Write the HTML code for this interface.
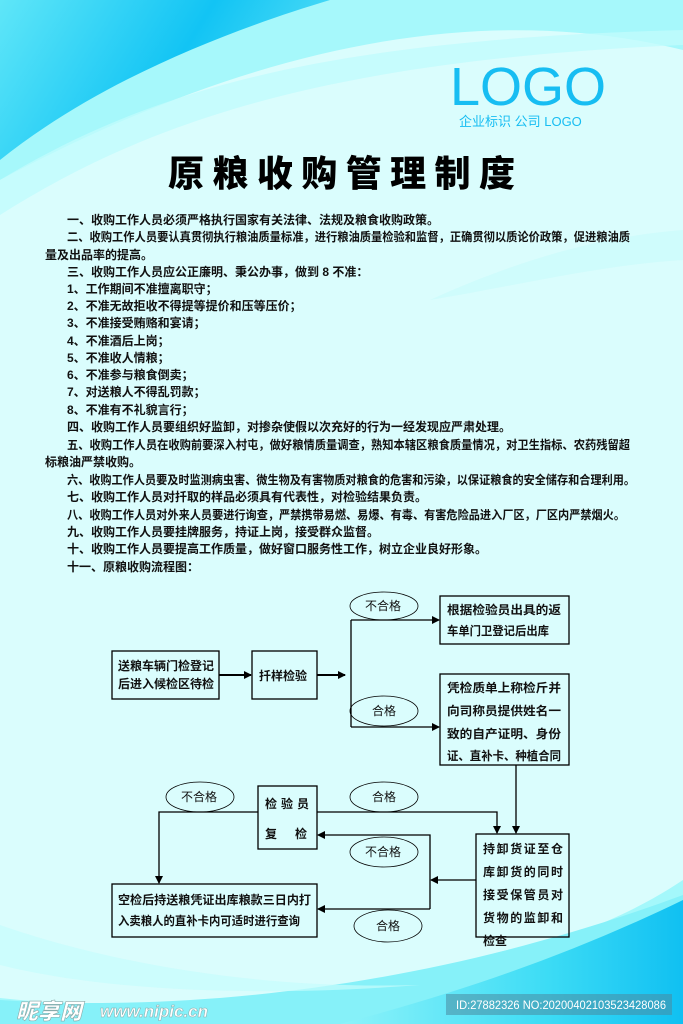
<!DOCTYPE html>
<html><head><meta charset="utf-8"><style>
html,body{margin:0;padding:0}
body{width:683px;height:1024px;overflow:hidden;background:#dafdfd}
svg{display:block}
.t{font-family:"Liberation Sans","Noto Sans CJK SC",sans-serif;font-size:12px;fill:#111;font-weight:bold}
.b{font-family:"Liberation Sans","Noto Sans CJK SC",sans-serif;font-size:12px;fill:#111;font-weight:bold}
</style></head><body>
<svg width="683" height="1024" viewBox="0 0 683 1024" xmlns="http://www.w3.org/2000/svg">
<defs>
<linearGradient id="g1" x1="0" y1="0" x2="1" y2="0.3">
<stop offset="0" stop-color="#5fe6f8"/><stop offset="0.6" stop-color="#12c4f4"/><stop offset="1" stop-color="#4fdcf6"/></linearGradient>
<linearGradient id="g2" x1="0" y1="0" x2="1" y2="0">
<stop offset="0" stop-color="#8ef3fa"/><stop offset="0.6" stop-color="#3ddcf5"/><stop offset="1" stop-color="#10c0f2"/></linearGradient>
<marker id="a" markerWidth="8" markerHeight="8" refX="7" refY="4" orient="auto" markerUnits="userSpaceOnUse"><path d="M0,0 L8,4 L0,8 z" fill="#000"/></marker>
</defs>
<rect width="683" height="1024" fill="#dafdfd"/>
<path d="M0,0 L683,0 L683,50 C520,10 300,20 0,180 Z" fill="#a6f8fb"/>
<path d="M0,0 L330,0 C230,30 100,80 0,160 Z" fill="url(#g1)"/>
<path d="M0,180 C150,90 320,40 683,30 L683,45 C330,60 150,120 0,215 Z" fill="#c0fbfc" opacity="0.8"/>
<path d="M430,300 C540,250 620,235 683,230 L683,260 C600,265 520,285 430,300Z" fill="#c8fcfc" opacity="0.6"/>
<path d="M0,998 C200,1020 520,990 683,880 L683,1024 L0,1024 Z" fill="#a4f8fb"/>
<path d="M0,1000 C150,1010 400,1000 683,895 L683,1024 L0,1024Z" fill="#86f1f9"/>
<path d="M340,1024 C470,990 580,950 683,900 L683,1024 Z" fill="url(#g2)"/>
<path d="M0,925 C100,960 250,990 420,985 C250,998 100,990 0,965Z" fill="#c6fcfc" opacity="0.7"/>

<text x="450" y="105" font-family="Liberation Sans,sans-serif" font-size="54" fill="#17bdf2">LOGO</text>
<text x="459" y="126" font-family="Liberation Sans,'Noto Sans CJK SC',sans-serif" font-size="13" fill="#17bdf2">企业标识 公司 LOGO</text>
<text x="168" y="186" font-family="'Noto Sans CJK SC',sans-serif" font-weight="900" font-size="36" fill="#000" textLength="347" lengthAdjust="spacing">原粮收购管理制度</text>

<g class="t">
<text x="67" y="224">一、收购工作人员必须严格执行国家有关法律、法规及粮食收购政策。</text>
<text x="67" y="241" textLength="563" lengthAdjust="spacingAndGlyphs">二、收购工作人员要认真贯彻执行粮油质量标准，进行粮油质量检验和监督，正确贯彻以质论价政策，促进粮油质</text>
<text x="45" y="259">量及出品率的提高。</text>
<text x="67" y="276">三、收购工作人员应公正廉明、秉公办事，做到 8 不准：</text>
<text x="67" y="293">1、工作期间不准擅离职守；</text>
<text x="67" y="310">2、不准无故拒收不得提等提价和压等压价；</text>
<text x="67" y="327">3、不准接受贿赂和宴请；</text>
<text x="67" y="345">4、不准酒后上岗；</text>
<text x="67" y="362">5、不准收人情粮；</text>
<text x="67" y="379">6、不准参与粮食倒卖；</text>
<text x="67" y="396">7、对送粮人不得乱罚款；</text>
<text x="67" y="414">8、不准有不礼貌言行；</text>
<text x="67" y="431">四、收购工作人员要组织好监卸，对掺杂使假以次充好的行为一经发现应严肃处理。</text>
<text x="67" y="449" textLength="563" lengthAdjust="spacingAndGlyphs">五、收购工作人员在收购前要深入村屯，做好粮情质量调查，熟知本辖区粮食质量情况，对卫生指标、农药残留超</text>
<text x="45" y="466">标粮油严禁收购。</text>
<text x="67" y="484" textLength="568" lengthAdjust="spacingAndGlyphs">六、收购工作人员要及时监测病虫害、微生物及有害物质对粮食的危害和污染，以保证粮食的安全储存和合理利用。</text>
<text x="67" y="501">七、收购工作人员对扦取的样品必须具有代表性，对检验结果负责。</text>
<text x="67" y="519" textLength="558" lengthAdjust="spacingAndGlyphs">八、收购工作人员对外来人员要进行询查，严禁携带易燃、易爆、有毒、有害危险品进入厂区，厂区内严禁烟火。</text>
<text x="67" y="536">九、收购工作人员要挂牌服务，持证上岗，接受群众监督。</text>
<text x="67" y="553">十、收购工作人员要提高工作质量，做好窗口服务性工作，树立企业良好形象。</text>
<text x="67" y="571">十一、原粮收购流程图：</text>
</g>

<g fill="none" stroke="#000" stroke-width="1.3">
<rect x="112" y="651" width="107" height="48"/>
<rect x="252" y="651" width="65" height="48"/>
<rect x="440" y="596" width="129" height="48"/>
<rect x="440" y="674" width="129" height="91"/>
<rect x="258" y="786" width="59" height="63"/>
<rect x="476" y="834" width="93" height="103"/>
<rect x="112" y="884" width="205" height="53"/>
<ellipse cx="384" cy="606" rx="34" ry="14" stroke-width="0.8"/>
<ellipse cx="384" cy="711" rx="34" ry="15" stroke-width="0.8"/>
<ellipse cx="200" cy="797" rx="34" ry="15" stroke-width="0.8"/>
<ellipse cx="384" cy="797" rx="34" ry="15" stroke-width="0.8"/>
<ellipse cx="384" cy="852" rx="34" ry="15" stroke-width="0.8"/>
<ellipse cx="388" cy="926" rx="34" ry="16" stroke-width="0.8"/>
</g>
<g fill="none" stroke="#000" stroke-width="1.3">
<line x1="219" y1="675" x2="251" y2="675" stroke-width="2" marker-end="url(#a)"/>
<line x1="317" y1="675" x2="345" y2="675" stroke-width="2" marker-end="url(#a)"/>
<line x1="351" y1="620" x2="351" y2="727"/>
<line x1="351" y1="620" x2="439" y2="620" marker-end="url(#a)"/>
<line x1="351" y1="727" x2="439" y2="727" marker-end="url(#a)"/>
<line x1="516" y1="765" x2="516" y2="833" marker-end="url(#a)"/>
<polyline points="317,812 497,812 497,833" marker-end="url(#a)"/>
<polyline points="258,812 159,812 159,883" marker-end="url(#a)"/>
<line x1="476" y1="880" x2="431" y2="880" marker-end="url(#a)"/>
<polyline points="430,909 430,835 318,835" marker-end="url(#a)"/>
<line x1="430" y1="909" x2="318" y2="909" marker-end="url(#a)"/>
</g>
<g class="b">
<text x="118" y="670" textLength="96" lengthAdjust="spacingAndGlyphs">送粮车辆门检登记</text>
<text x="118" y="688" textLength="96" lengthAdjust="spacingAndGlyphs">后进入候检区待检</text>
<text x="259" y="680">扦样检验</text>
<text x="447" y="614" textLength="114" lengthAdjust="spacingAndGlyphs">根据检验员出具的返</text>
<text x="447" y="635" textLength="102" lengthAdjust="spacingAndGlyphs">车单门卫登记后出库</text>
<text x="447" y="692" textLength="114" lengthAdjust="spacingAndGlyphs">凭检质单上称检斤并</text>
<text x="447" y="715" textLength="114" lengthAdjust="spacingAndGlyphs">向司称员提供姓名一</text>
<text x="447" y="738" textLength="114" lengthAdjust="spacingAndGlyphs">致的自产证明、身份</text>
<text x="447" y="760" textLength="114" lengthAdjust="spacingAndGlyphs">证、直补卡、种植合同</text>
<text x="265" y="808" textLength="44" lengthAdjust="spacing">检验员</text>
<text x="265" y="838" textLength="42" lengthAdjust="spacing">复检</text>
<text x="483" y="853" textLength="80" lengthAdjust="spacing">持卸货证至仓</text>
<text x="483" y="876" textLength="80" lengthAdjust="spacing">库卸货的同时</text>
<text x="483" y="899" textLength="80" lengthAdjust="spacing">接受保管员对</text>
<text x="483" y="922" textLength="80" lengthAdjust="spacing">货物的监卸和</text>
<text x="483" y="945">检查</text>
<text x="118" y="904" textLength="193" lengthAdjust="spacingAndGlyphs">空检后持送粮凭证出库粮款三日内打</text>
<text x="118" y="925" textLength="182" lengthAdjust="spacingAndGlyphs">入卖粮人的直补卡内可适时进行查询</text>
</g>
<g font-family="'Noto Sans CJK SC',sans-serif" font-size="12" fill="#111">
<text x="365" y="610">不合格</text>
<text x="372" y="715">合格</text>
<text x="181" y="801">不合格</text>
<text x="372" y="801">合格</text>
<text x="365" y="856">不合格</text>
<text x="376" y="930">合格</text>
</g>

<text x="16" y="1019" font-family="'Noto Sans CJK SC',sans-serif" font-weight="900" font-style="italic" font-size="22" fill="#fff" stroke="#8aa" stroke-width="0.6">昵享网</text>
<text x="100" y="1017" font-family="Liberation Sans,sans-serif" font-weight="bold" font-style="italic" font-size="17" fill="#fff" stroke="#8aa" stroke-width="0.5">www.nipic.cn</text>
<rect x="446" y="994" width="226" height="21" fill="#4a8aa0" opacity="0.55"/>
<text x="456" y="1009" font-family="Liberation Sans,sans-serif" font-size="11.5" fill="#fff" textLength="210" lengthAdjust="spacingAndGlyphs">ID:27882326 NO:20200402103523428086</text>
</svg>
</body></html>
